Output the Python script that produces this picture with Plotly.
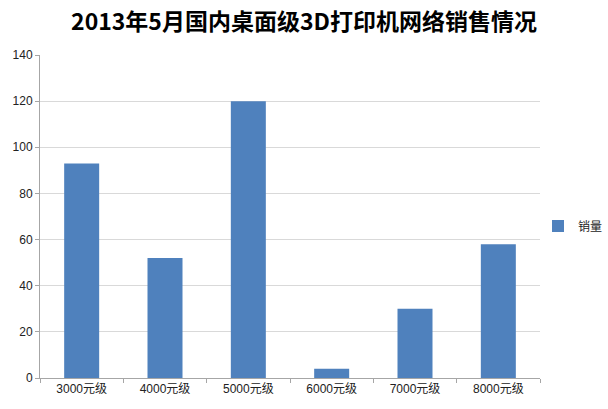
import plotly.graph_objects as go

# data
categories = ["3000元级", "4000元级", "5000元级", "6000元级", "7000元级", "8000元级"]
sales = [93, 52, 120, 4, 30, 58]
series_name = "销量"
title_text = "2013年5月国内桌面级3D打印机网络销售情况"

W, H = 608, 409

fig = go.Figure()
fig.add_trace(go.Bar(
    x=categories, y=sales,
    name=series_name,
    marker=dict(color="#4f81bd", line=dict(width=0)),
    width=0.42,
))

fig.update_layout(
    width=W, height=H,
    margin=dict(l=40, r=68, t=55, b=31, autoexpand=False),
    plot_bgcolor="white", paper_bgcolor="white",
    font=dict(family="Liberation Sans, Noto Sans CJK SC", size=11, color="#222"),
    title=dict(
        text=title_text,
        x=304 / W, xanchor="center", xref="container",
        y=(H - 22) / H, yanchor="middle", yref="container",
        font=dict(family="Noto Sans CJK SC", size=23, color="black", weight="bold"),
    ),
    showlegend=True,
    legend=dict(
        xref="container", yref="container",
        x=538 / W, xanchor="left", y=(H - 226) / H, yanchor="middle",
        font=dict(size=12, color="#222"),
        itemwidth=30, bgcolor="rgba(0,0,0,0)",
    ),
)

fig.update_xaxes(
    automargin=False,
    showline=True, linecolor="#a6a6a6", linewidth=1,
    ticks="outside", ticklen=4, tickcolor="#a6a6a6",
    tickson="boundaries",
    showgrid=False,
    tickfont=dict(size=12, color="#222"),
)
fig.update_yaxes(
    automargin=False,
    range=[0, 140], dtick=20,
    showline=True, linecolor="#a6a6a6", linewidth=1,
    ticks="outside", ticklen=4, tickcolor="#a6a6a6",
    showgrid=True, gridcolor="#d9d9d9", gridwidth=1,
    zeroline=False,
    tickfont=dict(size=12, color="#222"),
)

# drop the browser's default 8px body margin so the figure sits at 0,0
fig.write_html(
    "out.html",
    config={"displayModeBar": False},
    post_script="document.body.style.margin='0';",
)
